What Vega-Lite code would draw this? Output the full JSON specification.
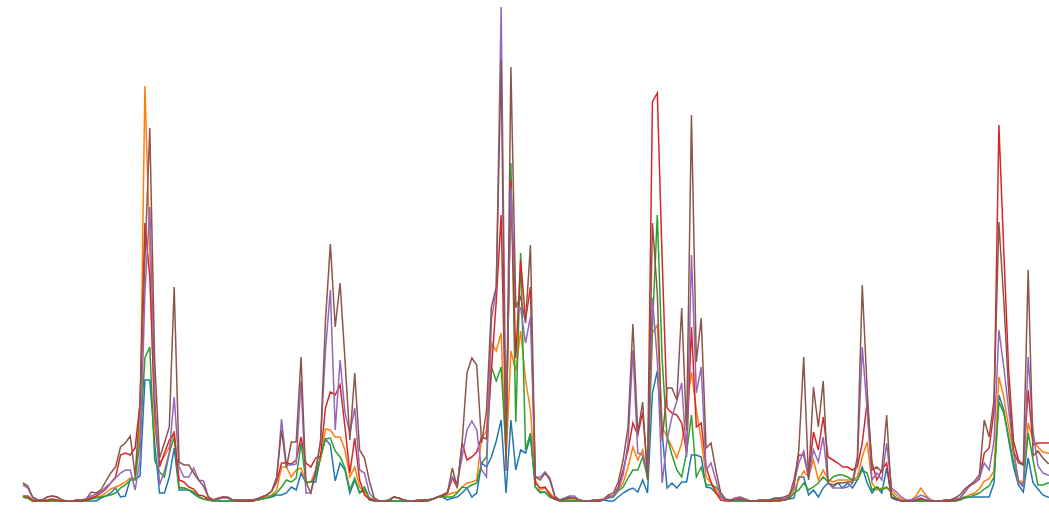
{
"$schema": "https://vega.github.io/schema/vega-lite/v6.json",
"width": 1049, "height": 524, "autosize": {"type": "none"}, "padding": 0,
"background": "white",
"config": {"view": {"stroke": null}},
"data": {"values": [
{"i":0,"s1":4,"s2":4,"s3":4,"s4":5,"s5":16,"s6":18},
{"i":1,"s1":3,"s2":3,"s3":3,"s4":5,"s5":13,"s6":15},
{"i":2,"s1":0,"s2":0,"s3":0,"s4":1,"s5":3,"s6":4},
{"i":3,"s1":0,"s2":0,"s3":0,"s4":0,"s5":1,"s6":1},
{"i":4,"s1":0,"s2":0,"s3":0,"s4":0,"s5":1,"s6":1},
{"i":5,"s1":0,"s2":0,"s3":0,"s4":1,"s5":4,"s6":4},
{"i":6,"s1":0,"s2":1,"s3":0,"s4":2,"s5":5,"s6":5},
{"i":7,"s1":0,"s2":0,"s3":0,"s4":1,"s5":4,"s6":4},
{"i":8,"s1":0,"s2":0,"s3":0,"s4":0,"s5":1,"s6":1},
{"i":9,"s1":0,"s2":0,"s3":0,"s4":0,"s5":0,"s6":0},
{"i":10,"s1":0,"s2":0,"s3":0,"s4":0,"s5":0,"s6":0},
{"i":11,"s1":0,"s2":0,"s3":0,"s4":0,"s5":1,"s6":1},
{"i":12,"s1":0,"s2":0,"s3":0,"s4":0,"s5":1,"s6":1},
{"i":13,"s1":0,"s2":0,"s3":0,"s4":1,"s5":2,"s6":2},
{"i":14,"s1":0,"s2":3,"s3":2,"s4":3,"s5":5,"s6":9},
{"i":15,"s1":0,"s2":4,"s3":3,"s4":5,"s5":7,"s6":8},
{"i":16,"s1":3,"s2":5,"s3":4,"s4":8,"s5":9,"s6":11},
{"i":17,"s1":5,"s2":8,"s3":5,"s4":12,"s5":14,"s6":20},
{"i":18,"s1":8,"s2":12,"s3":6,"s4":18,"s5":18,"s6":28},
{"i":19,"s1":13,"s2":14,"s3":8,"s4":24,"s5":23,"s6":34},
{"i":20,"s1":4,"s2":16,"s3":13,"s4":46,"s5":28,"s6":54},
{"i":21,"s1":5,"s2":19,"s3":16,"s4":48,"s5":31,"s6":58},
{"i":22,"s1":22,"s2":23,"s3":21,"s4":46,"s5":31,"s6":65},
{"i":23,"s1":22,"s2":23,"s3":21,"s4":53,"s5":11,"s6":25},
{"i":24,"s1":25,"s2":74,"s3":60,"s4":98,"s5":41,"s6":98},
{"i":25,"s1":121,"s2":415,"s3":143,"s4":278,"s5":208,"s6":241},
{"i":26,"s1":121,"s2":250,"s3":154,"s4":224,"s5":294,"s6":373},
{"i":27,"s1":58,"s2":74,"s3":41,"s4":91,"s5":108,"s6":141},
{"i":28,"s1":8,"s2":38,"s3":29,"s4":34,"s5":16,"s6":43},
{"i":29,"s1":8,"s2":45,"s3":24,"s4":48,"s5":30,"s6":58},
{"i":30,"s1":24,"s2":54,"s3":48,"s4":61,"s5":48,"s6":74},
{"i":31,"s1":53,"s2":70,"s3":64,"s4":68,"s5":104,"s6":214},
{"i":32,"s1":11,"s2":14,"s3":13,"s4":21,"s5":34,"s6":39},
{"i":33,"s1":11,"s2":13,"s3":13,"s4":19,"s5":24,"s6":36},
{"i":34,"s1":11,"s2":11,"s3":11,"s4":14,"s5":24,"s6":36},
{"i":35,"s1":7,"s2":9,"s3":9,"s4":12,"s5":33,"s6":28},
{"i":36,"s1":4,"s2":4,"s3":4,"s4":6,"s5":21,"s6":21},
{"i":37,"s1":2,"s2":2,"s3":2,"s4":5,"s5":20,"s6":15},
{"i":38,"s1":1,"s2":1,"s3":1,"s4":2,"s5":4,"s6":4},
{"i":39,"s1":0,"s2":1,"s3":0,"s4":1,"s5":1,"s6":1},
{"i":40,"s1":0,"s2":2,"s3":0,"s4":2,"s5":2,"s6":3},
{"i":41,"s1":0,"s2":4,"s3":0,"s4":4,"s5":3,"s6":4},
{"i":42,"s1":0,"s2":3,"s3":0,"s4":3,"s5":3,"s6":4},
{"i":43,"s1":0,"s2":1,"s3":0,"s4":1,"s5":1,"s6":1},
{"i":44,"s1":0,"s2":0,"s3":0,"s4":0,"s5":1,"s6":1},
{"i":45,"s1":0,"s2":0,"s3":0,"s4":0,"s5":1,"s6":1},
{"i":46,"s1":0,"s2":0,"s3":0,"s4":0,"s5":1,"s6":1},
{"i":47,"s1":0,"s2":0,"s3":0,"s4":0,"s5":1,"s6":1},
{"i":48,"s1":1,"s2":1,"s3":1,"s4":2,"s5":2,"s6":2},
{"i":49,"s1":2,"s2":3,"s3":2,"s4":4,"s5":4,"s6":4},
{"i":50,"s1":3,"s2":4,"s3":3,"s4":6,"s5":6,"s6":6},
{"i":51,"s1":4,"s2":6,"s3":5,"s4":10,"s5":10,"s6":10},
{"i":52,"s1":6,"s2":11,"s3":8,"s4":19,"s5":21,"s6":24},
{"i":53,"s1":6,"s2":34,"s3":14,"s4":38,"s5":82,"s6":71},
{"i":54,"s1":8,"s2":34,"s3":21,"s4":38,"s5":36,"s6":33},
{"i":55,"s1":14,"s2":24,"s3":19,"s4":37,"s5":36,"s6":59},
{"i":56,"s1":11,"s2":31,"s3":23,"s4":41,"s5":37,"s6":59},
{"i":57,"s1":28,"s2":33,"s3":58,"s4":64,"s5":120,"s6":144},
{"i":58,"s1":18,"s2":19,"s3":19,"s4":38,"s5":8,"s6":19},
{"i":59,"s1":19,"s2":19,"s3":19,"s4":34,"s5":8,"s6":8},
{"i":60,"s1":19,"s2":31,"s3":24,"s4":43,"s5":31,"s6":29},
{"i":61,"s1":45,"s2":41,"s3":44,"s4":45,"s5":60,"s6":60},
{"i":62,"s1":62,"s2":72,"s3":62,"s4":93,"s5":150,"s6":180},
{"i":63,"s1":56,"s2":71,"s3":63,"s4":109,"s5":211,"s6":257},
{"i":64,"s1":20,"s2":64,"s3":50,"s4":106,"s5":71,"s6":174},
{"i":65,"s1":38,"s2":64,"s3":44,"s4":116,"s5":141,"s6":218},
{"i":66,"s1":31,"s2":51,"s3":33,"s4":74,"s5":88,"s6":141},
{"i":67,"s1":8,"s2":24,"s3":11,"s4":28,"s5":68,"s6":61},
{"i":68,"s1":21,"s2":34,"s3":23,"s4":63,"s5":93,"s6":128},
{"i":69,"s1":8,"s2":14,"s3":8,"s4":21,"s5":31,"s6":51},
{"i":70,"s1":11,"s2":9,"s3":14,"s4":6,"s5":28,"s6":43},
{"i":71,"s1":1,"s2":3,"s3":3,"s4":2,"s5":8,"s6":20},
{"i":72,"s1":0,"s2":1,"s3":0,"s4":1,"s5":2,"s6":3},
{"i":73,"s1":0,"s2":0,"s3":0,"s4":0,"s5":0,"s6":0},
{"i":74,"s1":0,"s2":0,"s3":0,"s4":0,"s5":0,"s6":0},
{"i":75,"s1":0,"s2":0,"s3":0,"s4":0,"s5":1,"s6":1},
{"i":76,"s1":0,"s2":4,"s3":0,"s4":4,"s5":4,"s6":4},
{"i":77,"s1":0,"s2":3,"s3":0,"s4":3,"s5":3,"s6":3},
{"i":78,"s1":0,"s2":1,"s3":0,"s4":1,"s5":1,"s6":1},
{"i":79,"s1":0,"s2":0,"s3":0,"s4":0,"s5":0,"s6":0},
{"i":80,"s1":0,"s2":0,"s3":0,"s4":0,"s5":0,"s6":0},
{"i":81,"s1":0,"s2":0,"s3":0,"s4":0,"s5":1,"s6":1},
{"i":82,"s1":0,"s2":0,"s3":0,"s4":0,"s5":1,"s6":1},
{"i":83,"s1":0,"s2":1,"s3":0,"s4":1,"s5":1,"s6":1},
{"i":84,"s1":2,"s2":2,"s3":2,"s4":2,"s5":2,"s6":2},
{"i":85,"s1":4,"s2":4,"s3":4,"s4":4,"s5":4,"s6":4},
{"i":86,"s1":4,"s2":4,"s3":4,"s4":5,"s5":6,"s6":6},
{"i":87,"s1":1,"s2":6,"s3":4,"s4":8,"s5":9,"s6":8},
{"i":88,"s1":3,"s2":8,"s3":4,"s4":23,"s5":24,"s6":33},
{"i":89,"s1":4,"s2":9,"s3":8,"s4":14,"s5":18,"s6":13},
{"i":90,"s1":8,"s2":14,"s3":14,"s4":58,"s5":44,"s6":58},
{"i":91,"s1":13,"s2":18,"s3":13,"s4":41,"s5":71,"s6":128},
{"i":92,"s1":4,"s2":19,"s3":16,"s4":44,"s5":80,"s6":143},
{"i":93,"s1":8,"s2":21,"s3":18,"s4":49,"s5":71,"s6":136},
{"i":94,"s1":38,"s2":63,"s3":38,"s4":64,"s5":31,"s6":58},
{"i":95,"s1":34,"s2":70,"s3":44,"s4":62,"s5":24,"s6":90},
{"i":96,"s1":44,"s2":158,"s3":134,"s4":130,"s5":181,"s6":194},
{"i":97,"s1":60,"s2":150,"s3":120,"s4":200,"s5":211,"s6":214},
{"i":98,"s1":81,"s2":168,"s3":134,"s4":286,"s5":494,"s6":440},
{"i":99,"s1":8,"s2":40,"s3":50,"s4":60,"s5":70,"s6":30},
{"i":100,"s1":81,"s2":150,"s3":338,"s4":321,"s5":314,"s6":434},
{"i":101,"s1":31,"s2":130,"s3":79,"s4":143,"s5":194,"s6":194},
{"i":102,"s1":51,"s2":170,"s3":248,"s4":241,"s5":193,"s6":204},
{"i":103,"s1":48,"s2":121,"s3":51,"s4":181,"s5":158,"s6":178},
{"i":104,"s1":64,"s2":91,"s3":68,"s4":214,"s5":184,"s6":256},
{"i":105,"s1":14,"s2":21,"s3":14,"s4":18,"s5":24,"s6":24},
{"i":106,"s1":9,"s2":11,"s3":8,"s4":13,"s5":24,"s6":21},
{"i":107,"s1":9,"s2":13,"s3":9,"s4":14,"s5":29,"s6":28},
{"i":108,"s1":4,"s2":8,"s3":4,"s4":6,"s5":23,"s6":21},
{"i":109,"s1":2,"s2":2,"s3":2,"s4":2,"s5":5,"s6":4},
{"i":110,"s1":0,"s2":0,"s3":0,"s4":1,"s5":1,"s6":1},
{"i":111,"s1":0,"s2":1,"s3":0,"s4":2,"s5":3,"s6":2},
{"i":112,"s1":0,"s2":2,"s3":0,"s4":4,"s5":5,"s6":3},
{"i":113,"s1":0,"s2":1,"s3":0,"s4":3,"s5":5,"s6":3},
{"i":114,"s1":0,"s2":0,"s3":0,"s4":1,"s5":1,"s6":1},
{"i":115,"s1":0,"s2":0,"s3":0,"s4":0,"s5":0,"s6":0},
{"i":116,"s1":0,"s2":0,"s3":0,"s4":0,"s5":0,"s6":0},
{"i":117,"s1":0,"s2":0,"s3":0,"s4":0,"s5":1,"s6":1},
{"i":118,"s1":0,"s2":0,"s3":0,"s4":0,"s5":1,"s6":1},
{"i":119,"s1":1,"s2":1,"s3":1,"s4":1,"s5":1,"s6":2},
{"i":120,"s1":0,"s2":5,"s3":3,"s4":4,"s5":4,"s6":6},
{"i":121,"s1":0,"s2":5,"s3":4,"s4":5,"s5":5,"s6":8},
{"i":122,"s1":4,"s2":11,"s3":10,"s4":14,"s5":11,"s6":19},
{"i":123,"s1":8,"s2":18,"s3":14,"s4":31,"s5":26,"s6":41},
{"i":124,"s1":11,"s2":34,"s3":23,"s4":51,"s5":58,"s6":74},
{"i":125,"s1":13,"s2":54,"s3":31,"s4":78,"s5":151,"s6":177},
{"i":126,"s1":9,"s2":41,"s3":31,"s4":66,"s5":48,"s6":68},
{"i":127,"s1":21,"s2":51,"s3":44,"s4":89,"s5":46,"s6":99},
{"i":128,"s1":8,"s2":24,"s3":23,"s4":28,"s5":28,"s6":21},
{"i":129,"s1":108,"s2":168,"s3":174,"s4":399,"s5":203,"s6":278},
{"i":130,"s1":130,"s2":176,"s3":286,"s4":408,"s5":141,"s6":208},
{"i":131,"s1":68,"s2":74,"s3":141,"s4":241,"s5":18,"s6":60},
{"i":132,"s1":13,"s2":64,"s3":64,"s4":93,"s5":61,"s6":113},
{"i":133,"s1":18,"s2":54,"s3":46,"s4":88,"s5":84,"s6":113},
{"i":134,"s1":13,"s2":43,"s3":31,"s4":86,"s5":100,"s6":101},
{"i":135,"s1":19,"s2":58,"s3":24,"s4":78,"s5":118,"s6":193},
{"i":136,"s1":19,"s2":91,"s3":48,"s4":48,"s5":44,"s6":70},
{"i":137,"s1":46,"s2":129,"s3":86,"s4":174,"s5":246,"s6":386},
{"i":138,"s1":46,"s2":91,"s3":24,"s4":74,"s5":108,"s6":139},
{"i":139,"s1":44,"s2":61,"s3":34,"s4":78,"s5":134,"s6":183},
{"i":140,"s1":14,"s2":24,"s3":16,"s4":34,"s5":31,"s6":53},
{"i":141,"s1":13,"s2":18,"s3":16,"s4":19,"s5":38,"s6":58},
{"i":142,"s1":8,"s2":11,"s3":14,"s4":8,"s5":21,"s6":31},
{"i":143,"s1":4,"s2":3,"s3":8,"s4":1,"s5":4,"s6":8},
{"i":144,"s1":1,"s2":1,"s3":1,"s4":0,"s5":1,"s6":2},
{"i":145,"s1":0,"s2":1,"s3":0,"s4":0,"s5":1,"s6":1},
{"i":146,"s1":0,"s2":3,"s3":0,"s4":2,"s5":3,"s6":1},
{"i":147,"s1":0,"s2":4,"s3":0,"s4":3,"s5":4,"s6":2},
{"i":148,"s1":0,"s2":2,"s3":0,"s4":1,"s5":2,"s6":1},
{"i":149,"s1":0,"s2":0,"s3":0,"s4":0,"s5":0,"s6":0},
{"i":150,"s1":0,"s2":0,"s3":0,"s4":0,"s5":0,"s6":0},
{"i":151,"s1":0,"s2":0,"s3":0,"s4":0,"s5":1,"s6":1},
{"i":152,"s1":0,"s2":0,"s3":0,"s4":0,"s5":1,"s6":1},
{"i":153,"s1":0,"s2":0,"s3":0,"s4":0,"s5":1,"s6":1},
{"i":154,"s1":0,"s2":0,"s3":0,"s4":1,"s5":2,"s6":3},
{"i":155,"s1":0,"s2":1,"s3":0,"s4":1,"s5":3,"s6":3},
{"i":156,"s1":1,"s2":1,"s3":1,"s4":1,"s5":2,"s6":4},
{"i":157,"s1":2,"s2":3,"s3":2,"s4":4,"s5":5,"s6":6},
{"i":158,"s1":3,"s2":11,"s3":8,"s4":21,"s5":18,"s6":14},
{"i":159,"s1":24,"s2":21,"s3":11,"s4":46,"s5":38,"s6":51},
{"i":160,"s1":24,"s2":30,"s3":18,"s4":46,"s5":50,"s6":144},
{"i":161,"s1":6,"s2":24,"s3":11,"s4":24,"s5":24,"s6":21},
{"i":162,"s1":11,"s2":41,"s3":14,"s4":69,"s5":51,"s6":114},
{"i":163,"s1":4,"s2":21,"s3":18,"s4":51,"s5":39,"s6":74},
{"i":164,"s1":13,"s2":31,"s3":24,"s4":84,"s5":64,"s6":120},
{"i":165,"s1":18,"s2":21,"s3":19,"s4":44,"s5":18,"s6":18},
{"i":166,"s1":14,"s2":19,"s3":24,"s4":41,"s5":13,"s6":16},
{"i":167,"s1":18,"s2":21,"s3":26,"s4":38,"s5":13,"s6":18},
{"i":168,"s1":13,"s2":21,"s3":26,"s4":34,"s5":13,"s6":18},
{"i":169,"s1":18,"s2":21,"s3":24,"s4":34,"s5":14,"s6":19},
{"i":170,"s1":13,"s2":21,"s3":21,"s4":31,"s5":18,"s6":19},
{"i":171,"s1":21,"s2":24,"s3":21,"s4":34,"s5":38,"s6":44},
{"i":172,"s1":34,"s2":44,"s3":31,"s4":58,"s5":154,"s6":216},
{"i":173,"s1":18,"s2":59,"s3":28,"s4":99,"s5":91,"s6":111},
{"i":174,"s1":8,"s2":18,"s3":11,"s4":38,"s5":21,"s6":31},
{"i":175,"s1":14,"s2":11,"s3":14,"s4":21,"s5":28,"s6":34},
{"i":176,"s1":8,"s2":13,"s3":11,"s4":31,"s5":21,"s6":29},
{"i":177,"s1":33,"s2":13,"s3":14,"s4":38,"s5":58,"s6":86},
{"i":178,"s1":3,"s2":11,"s3":8,"s4":4,"s5":13,"s6":4},
{"i":179,"s1":1,"s2":6,"s3":3,"s4":2,"s5":9,"s6":2},
{"i":180,"s1":0,"s2":2,"s3":0,"s4":0,"s5":4,"s6":0},
{"i":181,"s1":0,"s2":0,"s3":0,"s4":0,"s5":1,"s6":0},
{"i":182,"s1":0,"s2":1,"s3":0,"s4":0,"s5":1,"s6":0},
{"i":183,"s1":0,"s2":5,"s3":0,"s4":1,"s5":3,"s6":1},
{"i":184,"s1":0,"s2":13,"s3":0,"s4":3,"s5":6,"s6":2},
{"i":185,"s1":0,"s2":6,"s3":0,"s4":1,"s5":4,"s6":1},
{"i":186,"s1":0,"s2":1,"s3":0,"s4":0,"s5":1,"s6":0},
{"i":187,"s1":0,"s2":0,"s3":0,"s4":0,"s5":0,"s6":0},
{"i":188,"s1":0,"s2":0,"s3":0,"s4":0,"s5":0,"s6":0},
{"i":189,"s1":0,"s2":0,"s3":0,"s4":0,"s5":1,"s6":1},
{"i":190,"s1":0,"s2":0,"s3":0,"s4":0,"s5":1,"s6":1},
{"i":191,"s1":0,"s2":1,"s3":0,"s4":1,"s5":2,"s6":3},
{"i":192,"s1":1,"s2":2,"s3":1,"s4":2,"s5":3,"s6":6},
{"i":193,"s1":3,"s2":4,"s3":4,"s4":9,"s5":9,"s6":12},
{"i":194,"s1":4,"s2":6,"s3":4,"s4":15,"s5":16,"s6":16},
{"i":195,"s1":4,"s2":8,"s3":6,"s4":18,"s5":18,"s6":20},
{"i":196,"s1":4,"s2":12,"s3":8,"s4":22,"s5":23,"s6":26},
{"i":197,"s1":4,"s2":20,"s3":12,"s4":48,"s5":38,"s6":81},
{"i":198,"s1":4,"s2":22,"s3":15,"s4":53,"s5":31,"s6":64},
{"i":199,"s1":18,"s2":30,"s3":24,"s4":90,"s5":60,"s6":101},
{"i":200,"s1":106,"s2":124,"s3":99,"s4":376,"s5":171,"s6":279},
{"i":201,"s1":91,"s2":104,"s3":88,"s4":250,"s5":134,"s6":200},
{"i":202,"s1":61,"s2":74,"s3":64,"s4":130,"s5":91,"s6":110},
{"i":203,"s1":34,"s2":48,"s3":38,"s4":60,"s5":51,"s6":50},
{"i":204,"s1":16,"s2":21,"s3":19,"s4":41,"s5":19,"s6":38},
{"i":205,"s1":9,"s2":18,"s3":16,"s4":36,"s5":14,"s6":36},
{"i":206,"s1":43,"s2":78,"s3":68,"s4":111,"s5":144,"s6":231},
{"i":207,"s1":18,"s2":61,"s3":41,"s4":56,"s5":70,"s6":45},
{"i":208,"s1":12,"s2":54,"s3":16,"s4":58,"s5":35,"s6":50},
{"i":209,"s1":6,"s2":49,"s3":16,"s4":58,"s5":28,"s6":43},
{"i":210,"s1":4,"s2":48,"s3":18,"s4":58,"s5":26,"s6":38},
{"i":211,"s1":3,"s2":47,"s3":18,"s4":58,"s5":25,"s6":36}
]},
"transform": [{"fold": ["s1","s2","s3","s4","s5","s6"], "as": ["series","value"]}],
"mark": {"type": "line", "strokeWidth": 1.5, "clip": true},
"encoding": {
  "x": {"field": "i", "type": "quantitative", "scale": {"domain": [-4.693, 210.266], "nice": false, "zero": false}, "axis": null},
  "y": {"field": "value", "type": "quantitative", "scale": {"domain": [0, 501], "range": [501, 0], "nice": false}, "axis": null},
  "color": {"field": "series", "type": "nominal", "scale": {"domain": ["s1","s2","s3","s4","s5","s6"], "range": ["#1f77b4","#ff7f0e","#2ca02c","#d62728","#9467bd","#8c564b"]}, "legend": null}
}
}
